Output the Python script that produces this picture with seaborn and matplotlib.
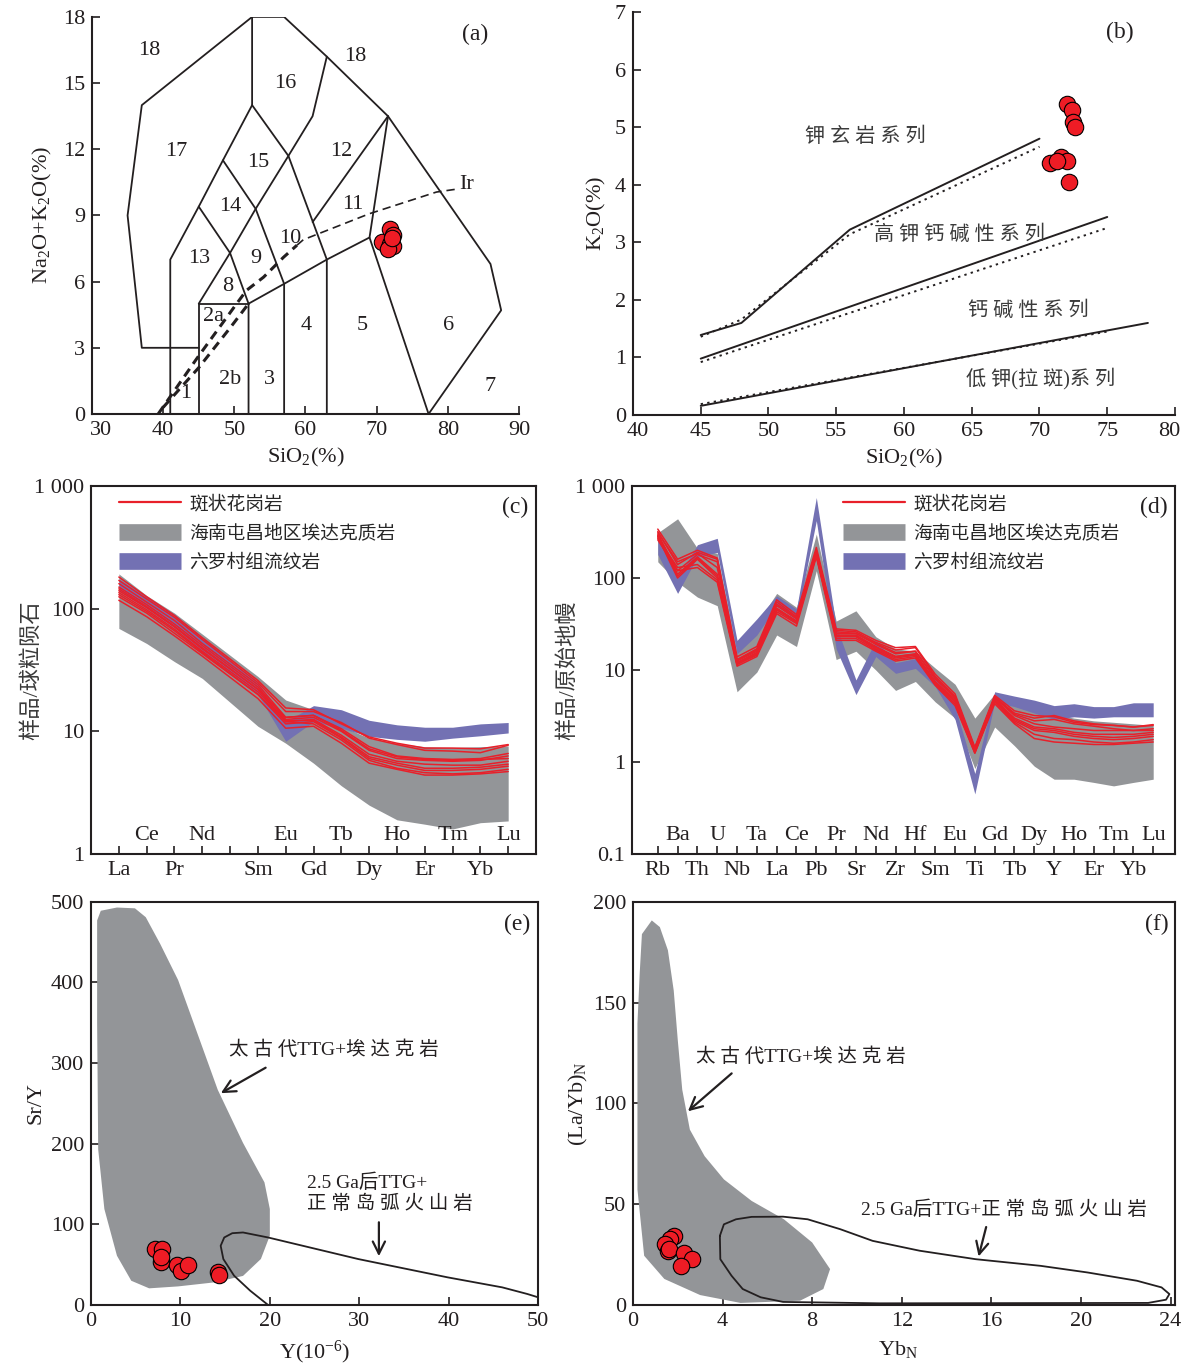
import numpy as np
import pandas as pd
import seaborn as sns
import matplotlib.pyplot as plt
import matplotlib.transforms as mtransforms
from matplotlib.lines import Line2D
from matplotlib.ticker import NullLocator

sns.set_theme(style='ticks')
plt.rcParams['font.family'] = ['Liberation Serif', 'Noto Sans CJK SC']
plt.rcParams['mathtext.fontset'] = 'custom'
plt.rcParams['mathtext.rm'] = 'Liberation Serif'
plt.rcParams['mathtext.default'] = 'regular'

RED = '#e8202a'
GRAY = '#939598'
PURPLE = '#7371b3'
INK = '#231f20'

# ---------------- (a) TAS data ----------------
tas_lines = [
    [(41, 0), (41, 7), (45, 9.4), (48.4, 11.5), (52.5, 14), (52.5, 18)],
    [(45, 3), (37, 3), (35, 9), (37, 14), (52.5, 18), (57, 18), (63, 16.2),
     (71.6, 13.5), (86, 6.8), (87.5, 4.7), (77.3, 0)],
    [(45, 0), (45, 5), (52, 5)],
    [(52, 0), (52, 5), (57, 5.9), (63, 7), (69, 8), (71.6, 13.5)],
    [(45, 5), (49.4, 7.3), (53, 9.3), (57.6, 11.7), (61, 13.5), (63, 16.2)],
    [(45, 9.4), (49.4, 7.3), (52, 5)],
    [(48.4, 11.5), (53, 9.3), (57, 5.9), (57, 0)],
    [(52.5, 14), (57.6, 11.7), (63, 7), (63, 0)],
    [(61, 8.7), (71.6, 13.5)],
    [(69, 8), (77.3, 0)],
]
ir_thick_upper = [(39.3, 0), (44.7, 2.5), (50.1, 4.9), (51.7, 5.6), (54.1, 6.2), (56.9, 7.1), (58.8, 7.65)]
ir_thick_lower = [(40.0, 0.3), (45, 2.1), (49.4, 3.9), (52, 5.0)]
ir_thin = [(58.8, 7.65), (59.7, 7.9), (69.0, 9.08), (78.4, 10.06), (81.4, 10.2)]
tas_names = ['18', '18', '16', '17', '15', '12', '14', '11', '10', '9', '13', '8', '2a',
             '4', '5', '6', '2b', '3', '1', '7']
tas_name_x = [38, 67, 57.2, 41.9, 53.4, 65, 49.4, 66.7, 57.8, 53, 45, 49.1, 47.1,
              60.1, 68.0, 80.1, 49.4, 55, 43.2, 85.9]
tas_name_y = [16.5, 16.2, 15.0, 11.9, 11.4, 11.9, 9.4, 9.5, 7.95, 7.05, 7.05, 5.8, 4.4,
              4.0, 4.0, 4.0, 1.55, 1.55, 0.95, 1.25]
a_sio2 = [70.7, 71.9, 72.3, 71.9, 72.3, 71.6, 72.1]
a_alk = [7.8, 8.4, 8.1, 7.7, 7.6, 7.5, 8.0]

# ---------------- (b) K2O-SiO2 data ----------------
b_lines_solid = [([45, 48, 56, 70], [1.39, 1.6, 3.22, 4.8]),
                 ([45, 75], [0.98, 3.44]),
                 ([45, 78], [0.16, 1.6])]
b_lines_dot = [([45, 48, 56, 70], [1.36, 1.66, 3.14, 4.66]),
               ([45, 75], [0.92, 3.25]),
               ([45, 75], [0.19, 1.45])]
b_series = ['钾 玄 岩 系 列', '高 钾 钙 碱 性 系 列', '钙 碱 性 系 列', '低 钾(拉 斑)系 列']
b_series_x = [52.7, 57.8, 64.7, 64.6]
b_series_y = [4.83, 3.12, 1.81, 0.64]
b_sio2 = [72.0, 72.4, 72.5, 72.6, 70.8, 71.6, 72.0, 71.3, 72.2]
b_k2o = [5.41, 5.29, 5.09, 5.01, 4.38, 4.48, 4.41, 4.42, 4.05]

# ---------------- (c) REE data ----------------
ree = ['La', 'Ce', 'Pr', 'Nd', 'Sm', 'Eu', 'Gd', 'Tb', 'Dy', 'Ho', 'Er', 'Tm', 'Yb', 'Lu']
ree_pos = [0, 1, 2, 3, 5, 6, 7, 8, 9, 10, 11, 12, 13, 14]
ree_samples = [
    [181, 125, 88, 58, 26, 15.5, 15, 11.5, 9.0, 8.0, 7.3, 7.3, 7.2, 7.8],
    [170, 120, 85, 56, 25, 14.5, 14.5, 11.8, 8.8, 7.8, 7.0, 6.9, 6.7, 7.7],
    [160, 113, 80, 52, 24, 13, 13.5, 10.5, 7.5, 6.3, 6.0, 5.9, 6.0, 6.6],
    [150, 108, 75, 50, 23, 12.5, 13, 10, 7.0, 6.0, 5.8, 5.7, 5.8, 6.3],
    [140, 102, 71, 47, 22, 12, 12.5, 9.3, 6.5, 5.7, 5.4, 5.3, 5.3, 5.7],
    [130, 95, 66, 44, 20, 11.5, 12, 8.8, 6.0, 5.3, 4.8, 4.8, 4.9, 5.2],
    [125, 92, 63, 43, 20, 12, 11.5, 8.5, 5.8, 5.0, 4.6, 4.5, 4.6, 4.9],
    [117, 86, 60, 41, 18.5, 10.6, 11, 8.0, 5.5, 4.9, 4.4, 4.4, 4.5, 4.7],
    [145, 104, 72, 48, 22, 13, 13.5, 10.2, 7.2, 6.2, 5.9, 5.8, 5.9, 6.0],
    [135, 98, 68, 45, 21, 12.2, 12.3, 9.0, 6.2, 5.5, 5.0, 5.0, 5.1, 5.4],
]
ree_adakite_hi = [192, 128, 92, 62, 28, 18, 15, 11, 8.8, 8, 7.5, 7.4, 7.5, 7.6]
ree_adakite_lo = [69, 52, 37, 27, 11, 8, 5.5, 3.6, 2.5, 1.9, 1.75, 1.6, 1.8, 1.86]
ree_rhyo_hi = [175, 125, 90, 58, 25, 12, 16.2, 15, 12.3, 11.3, 10.8, 10.8, 11.5, 11.8]
ree_rhyo_lo = [140, 100, 70, 45, 20, 8.3, 12, 10.6, 9.1, 8.6, 8.3, 8.8, 9.2, 9.7]

# ---------------- (d) spider data ----------------
spider = ['Rb', 'Ba', 'Th', 'U', 'Nb', 'Ta', 'La', 'Ce', 'Pb', 'Pr', 'Sr', 'Nd', 'Zr',
          'Hf', 'Sm', 'Eu', 'Ti', 'Gd', 'Tb', 'Dy', 'Y', 'Ho', 'Er', 'Tm', 'Yb', 'Lu']
spider_samples = [
    [340, 160, 200, 165, 13.9, 18, 58, 40, 215, 28, 27, 21, 17.5, 18, 9.0, 5.5, 1.45, 5.3, 3.6, 3.2, 3.1, 2.7, 2.55, 2.5, 2.4, 2.55],
    [320, 140, 190, 160, 13, 17, 55, 38, 200, 27, 26, 20, 16.5, 17.5, 8.5, 5.2, 1.4, 5.1, 3.4, 3.0, 3.2, 2.8, 2.6, 2.5, 2.4, 2.5],
    [300, 120, 180, 150, 12.5, 16, 50, 36, 190, 25, 25, 19, 15, 16, 8.0, 5.0, 1.35, 5.0, 3.2, 2.6, 2.4, 2.3, 2.2, 2.2, 2.2, 2.3],
    [290, 110, 170, 110, 12, 15.5, 47, 34, 185, 24, 24, 18, 14, 15, 7.5, 4.8, 1.3, 4.8, 3.0, 2.4, 2.3, 2.1, 2.0, 2.0, 2.0, 2.1],
    [280, 100, 160, 100, 11.5, 15, 45, 33, 180, 23, 23, 17, 13.5, 14.5, 7.2, 4.5, 1.3, 4.6, 2.8, 2.2, 2.1, 1.9, 1.8, 1.75, 1.8, 1.9],
    [270, 130, 140, 95, 11.5, 14.5, 43, 32, 175, 22, 22, 16.5, 13, 14, 7.0, 4.3, 1.25, 4.5, 2.7, 2.0, 1.8, 1.75, 1.65, 1.6, 1.65, 1.75],
    [260, 120, 130, 90, 11, 14, 41, 30, 170, 21, 21, 16, 12.5, 13.5, 6.8, 4.1, 1.25, 4.3, 2.6, 1.8, 1.65, 1.6, 1.55, 1.55, 1.6, 1.65],
    [310, 150, 185, 130, 12.8, 16.5, 52, 37, 195, 26, 25, 19.5, 15.5, 16, 8.2, 5.0, 1.4, 5.0, 3.3, 2.8, 2.9, 2.6, 2.45, 2.3, 2.2, 2.2],
    [285, 105, 165, 105, 12, 15, 46, 34, 180, 23.5, 23.5, 17.5, 14, 14.8, 7.4, 4.6, 1.3, 4.7, 2.9, 2.3, 2.2, 2.0, 1.9, 1.85, 1.9, 2.0],
]
spider_adakite_hi = [310, 440, 210, 185, 16, 32, 68, 48, 300, 34, 44, 23, 17, 16, 10.5, 7.0, 3.0, 5.5, 4.3, 3.7, 3.3, 3.0, 2.8, 2.7, 2.6, 2.5]
spider_adakite_lo = [150, 90, 62, 50, 5.8, 9.5, 24, 18, 120, 13, 16, 10, 6.0, 7.5, 4.5, 3.0, 0.85, 2.4, 1.5, 0.9, 0.65, 0.65, 0.6, 0.55, 0.6, 0.65]
spider_rhyo_hi = [280, 100, 230, 270, 21, 36, 64, 46, 750, 30, 7.8, 21, 12, 13.3, 8.5, 4.0, 0.75, 5.8, 5.2, 4.7, 4.1, 4.3, 4.0, 4.0, 4.4, 4.4]
spider_rhyo_lo = [180, 68, 170, 190, 15, 24, 50, 35, 420, 17, 5.4, 14, 9.2, 10.4, 6.6, 2.9, 0.45, 4.5, 4.0, 3.4, 2.9, 3.1, 3.0, 3.1, 3.1, 3.1]

legend_labels = ['斑状花岗岩', '海南屯昌地区埃达克质岩', '六罗村组流纹岩']

# ---------------- (e) Sr/Y - Y data ----------------
e_field_x = [0.68, 1.09, 2.9, 4.91, 6.12, 7.73, 9.74, 11.76, 14.17, 17.0, 19.4, 20.0, 20.0,
             19.0, 17.0, 13.8, 9.74, 6.5, 4.5, 2.9, 1.49, 0.8, 0.68]
e_field_y = [477, 489, 493, 492, 481, 448, 403, 341, 267, 201, 152, 119, 86,
             57, 36, 28, 23, 20.6, 30, 61, 119, 193, 350]
e_arc_x = [19.8, 17.8, 16.0, 14.8, 14.5, 14.9, 15.8, 17.0, 19.8, 29.9, 39.9, 46, 48.8, 50]
e_arc_y = [0, 17.7, 36.3, 56.9, 73.4, 83.7, 89, 89.9, 83.7, 56.9, 34.2, 21.8, 13.6, 9.5]
e_y = [7.2, 7.93, 7.8, 7.85, 9.66, 10.06, 10.87, 14.17, 14.3]
e_sry = [69.2, 70, 52.8, 59, 49.5, 42.5, 49.5, 41.2, 37.1]

# ---------------- (f) (La/Yb)N - YbN data ----------------
f_field_x = [0.4, 0.84, 1.2, 1.56, 1.82, 2.0, 2.2, 2.54, 3.2, 4.06, 5.3, 6.74, 8.0, 8.8,
             8.5, 7.46, 4.8, 3.0, 1.4, 0.5, 0.2, 0.2, 0.3]
f_field_y = [184, 190.8, 187.5, 176, 156, 131.5, 106.8, 87, 73.8, 62.3, 51.6, 42.5, 31, 17.8,
             7.9, 2.1, 1.0, 4.9, 12.9, 24.4, 57.3, 139.7, 164.4]
f_arc_x = [3.88, 4.06, 4.6, 5.3, 6.7, 7.8, 9.25, 10.7, 12.8, 15.3, 18.2, 20.3, 22.5, 23.6,
           23.95, 23.8, 23.0, 11.0, 6.7, 5.7, 4.9, 4.4, 3.9, 3.88]
f_arc_y = [34.3, 40, 42.5, 43.7, 43.8, 42.5, 37.6, 31.8, 26.9, 22.7, 19.4, 16.1, 12, 8.7,
           5.4, 2.6, 1.0, 0.8, 1.5, 3.8, 7.9, 14.5, 22.7, 34.3]
f_ybn = [1.82, 1.65, 1.41, 1.56, 1.61, 2.27, 2.63, 2.15]
f_layb = [34.3, 32.6, 30.1, 26.9, 28, 26, 22.7, 19.4]

field_names = ['太 古 代TTG+埃 达 克 岩', '2.5 Ga后TTG+\n正 常 岛 弧 火 山 岩']


def style(ax, box=True):
    ax.spines['top'].set_visible(box)
    ax.spines['right'].set_visible(box)
    for s in ax.spines.values():
        s.set_linewidth(1.5)
        s.set_color(INK)
    ax.tick_params(direction='in', length=6, width=1.2, colors=INK, labelsize=16, pad=5)
    ax.set_facecolor('white')


def nudge_edge_labels(ax, fig, first_dx=0.0, last_dx=0.0):
    # the corner tick labels sit a little inward in the original
    labels = ax.get_xticklabels()
    if first_dx:
        labels[0].set_transform(labels[0].get_transform() +
                                mtransforms.ScaledTranslation(first_dx / 100, 0, fig.dpi_scale_trans))
    if last_dx:
        labels[-1].set_transform(labels[-1].get_transform() +
                                 mtransforms.ScaledTranslation(last_dx / 100, 0, fig.dpi_scale_trans))


def points(ax, x, y):
    sns.scatterplot(x=x, y=y, ax=ax, s=140, color='#ee1c25', edgecolor='black',
                    linewidth=0.8, zorder=5, legend=False)


def long_form(samples, pos):
    rows = []
    for i, vals in enumerate(samples):
        for p, v in zip(pos, vals):
            rows.append({'pos': p, 'val': v, 'sample': i})
    return pd.DataFrame(rows)


def legend(ax, x0):
    handles = [Line2D([], [], color=RED, lw=1.6),
               Line2D([], [], color=GRAY, lw=12, solid_capstyle='butt'),
               Line2D([], [], color=PURPLE, lw=12, solid_capstyle='butt')]
    ax.legend(handles, legend_labels, loc='upper left', bbox_to_anchor=(x0, 0.975),
              frameon=False, fontsize=13.5, handlelength=3.3, handletextpad=0.45,
              labelspacing=0.62, borderpad=0, borderaxespad=0)


fig = plt.figure(figsize=(11.84, 13.64), dpi=100)

# ---------------- (a) ----------------
ax = fig.add_axes([0.0777, 0.6965, 0.3606, 0.2911])
style(ax, box=False)
for seg in tas_lines:
    xs, ys = zip(*seg)
    ax.plot(xs, ys, color=INK, lw=1.3)
for seg in (ir_thick_upper, ir_thick_lower):
    xs, ys = zip(*seg)
    ax.plot(xs, ys, color=INK, lw=2.2, ls=(0, (3, 2)))
xs, ys = zip(*ir_thin)
ax.plot(xs, ys, color=INK, lw=1.2, ls=(0, (5, 3)))
ax.text(82.6, 10.4, 'Ir', fontsize=16, ha='center', va='center', color=INK)
for n, tx, ty in zip(tas_names, tas_name_x, tas_name_y):
    ax.text(tx, ty, n, fontsize=16, ha='center', va='center', color=INK)
points(ax, a_sio2, a_alk)
ax.set_xlim(30, 90)
ax.set_ylim(0, 18)
ax.set_xticks(range(30, 91, 10))
ax.set_yticks(range(0, 19, 3))
nudge_edge_labels(ax, fig, first_dx=9)
ax.text(83.9, 17.2, '(a)', fontsize=17, ha='center', va='center', color=INK)
ax.set_xlabel('SiO$_2$(%)', fontsize=16, color=INK)
ax.set_ylabel('Na$_2$O+K$_2$O(%)', fontsize=16, color=INK)
ax.xaxis.set_label_coords(0.5, -0.08)
ax.yaxis.set_label_coords(-0.088, 0.5)

# ---------------- (b) ----------------
ax = fig.add_axes([0.5346, 0.6957, 0.4578, 0.2955])
style(ax, box=False)
for xs, ys in b_lines_solid:
    ax.plot(xs, ys, color=INK, lw=1.4)
for xs, ys in b_lines_dot:
    ax.plot(xs, ys, color=INK, lw=1.4, ls=(0, (1.2, 2.2)))
for t, tx, ty in zip(b_series, b_series_x, b_series_y):
    ax.text(tx, ty, t, fontsize=14.5, ha='left', va='center', color='#3a3a3a')
points(ax, b_sio2, b_k2o)
ax.set_xlim(40, 80)
ax.set_ylim(0, 7)
ax.set_xticks(range(40, 81, 5))
ax.set_yticks(range(0, 8))
nudge_edge_labels(ax, fig, first_dx=5, last_dx=-6)
ax.text(75.9, 6.64, '(b)', fontsize=17, ha='center', va='center', color=INK)
ax.set_xlabel('SiO$_2$(%)', fontsize=16, color=INK)
ax.set_ylabel('K$_2$O(%)', fontsize=16, color=INK)
ax.xaxis.set_label_coords(0.5, -0.078)
ax.yaxis.set_label_coords(-0.046, 0.5)

# ---------------- (c) ----------------
ax = fig.add_axes([0.0769, 0.3739, 0.3758, 0.2698])
style(ax)
ax.set_yscale('log')
ax.fill_between(ree_pos, ree_adakite_lo, ree_adakite_hi, color=GRAY, lw=0)
ax.fill_between(ree_pos, ree_rhyo_lo, ree_rhyo_hi, color=PURPLE, lw=0)
sns.lineplot(data=long_form(ree_samples, ree_pos), x='pos', y='val', units='sample',
             estimator=None, color=RED, lw=1.1, ax=ax, legend=False)
ax.set_xlim(-1, 15)
ax.set_ylim(1, 1000)
ax.yaxis.set_minor_locator(NullLocator())
ax.set_yticks([1, 10, 100, 1000])
ax.set_yticklabels(['1', '10', '100', '1 000'])
ax.set_xticks(range(15))
under = {p: n for i, (p, n) in enumerate(zip(ree_pos, ree)) if i % 2 == 0}
ax.set_xticklabels([under.get(p, '') for p in range(15)])
for i, (p, n) in enumerate(zip(ree_pos, ree)):
    if i % 2 == 1:
        ax.text(p, 0.025, n, transform=ax.get_xaxis_transform(), fontsize=16,
                ha='center', va='bottom', color=INK)
ax.set_xlabel('')
ax.set_ylabel('样品/球粒陨石', fontsize=16, color='#3a3a3a')
ax.yaxis.set_label_coords(-0.11, 0.5)
ax.text(0.982, 0.943, '(c)', transform=ax.transAxes, fontsize=17, ha='right', va='center', color=INK)
legend(ax, 0.063)

# ---------------- (d) ----------------
ax = fig.add_axes([0.5338, 0.3739, 0.4586, 0.2698])
style(ax)
ax.set_yscale('log')
sp_pos = list(range(len(spider)))
ax.fill_between(sp_pos, spider_adakite_lo, spider_adakite_hi, color=GRAY, lw=0)
ax.fill_between(sp_pos, spider_rhyo_lo, spider_rhyo_hi, color=PURPLE, lw=0)
sns.lineplot(data=long_form(spider_samples, sp_pos), x='pos', y='val', units='sample',
             estimator=None, color=RED, lw=1.1, ax=ax, legend=False)
ax.set_xlim(-1.3, 26.1)
ax.set_ylim(0.1, 1000)
ax.yaxis.set_minor_locator(NullLocator())
ax.set_yticks([0.1, 1, 10, 100, 1000])
ax.set_yticklabels(['0.1', '1', '10', '100', '1 000'])
ax.set_xticks(sp_pos)
ax.set_xticklabels([n if i % 2 == 0 else '' for i, n in enumerate(spider)])
for i, n in enumerate(spider):
    if i % 2 == 1:
        ax.text(i, 0.025, n, transform=ax.get_xaxis_transform(), fontsize=16,
                ha='center', va='bottom', color=INK)
ax.set_xlabel('')
ax.set_ylabel('样品/原始地幔', fontsize=16, color='#3a3a3a')
ax.yaxis.set_label_coords(-0.099, 0.5)
ax.text(0.987, 0.943, '(d)', transform=ax.transAxes, fontsize=17, ha='right', va='center', color=INK)
legend(ax, 0.389)

# ---------------- (e) ----------------
ax = fig.add_axes([0.0769, 0.0433, 0.3775, 0.2955])
style(ax)
ax.fill(e_field_x, e_field_y, color=GRAY, lw=0)
ax.plot(e_arc_x, e_arc_y, color=INK, lw=1.3)
points(ax, e_y, e_sry)
ax.text(15.4, 316.6, field_names[0], fontsize=14, ha='left', va='center', color=INK)
ax.annotate('', xy=(14.25, 261), xytext=(19.8, 296),
            arrowprops=dict(arrowstyle='->', lw=1.6, color=INK, mutation_scale=22))
ax.text(24.2, 138, field_names[1], fontsize=14, ha='left', va='center', color=INK,
        linespacing=1.2)
ax.annotate('', xy=(32.2, 57), xytext=(32.2, 106),
            arrowprops=dict(arrowstyle='->', lw=1.6, color=INK, mutation_scale=22))
ax.set_xlim(0, 50)
ax.set_ylim(0, 500)
ax.set_xticks(range(0, 51, 10))
ax.set_yticks(range(0, 501, 100))
ax.text(0.982, 0.943, '(e)', transform=ax.transAxes, fontsize=17, ha='right', va='center', color=INK)
ax.set_xlabel('Y(10$^{-6}$)', fontsize=16, color=INK)
ax.set_ylabel('Sr/Y', fontsize=16, color=INK)
ax.xaxis.set_label_coords(0.5, -0.085)
ax.yaxis.set_label_coords(-0.103, 0.5)

# ---------------- (f) ----------------
ax = fig.add_axes([0.5346, 0.0433, 0.4578, 0.2955])
style(ax)
ax.fill(f_field_x, f_field_y, color=GRAY, lw=0)
ax.plot(f_arc_x, f_arc_y, color=INK, lw=1.3)
points(ax, f_ybn, f_layb)
ax.text(2.8, 123, field_names[0], fontsize=14, ha='left', va='center', color=INK)
ax.annotate('', xy=(2.36, 95.2), xytext=(4.5, 115.8),
            arrowprops=dict(arrowstyle='->', lw=1.6, color=INK, mutation_scale=22))
ax.text(10.2, 47.4, field_names[1].replace('\n', ''), fontsize=14, ha='left', va='center',
        color=INK)
ax.annotate('', xy=(15.4, 22.7), xytext=(15.8, 40),
            arrowprops=dict(arrowstyle='->', lw=1.6, color=INK, mutation_scale=22))
ax.set_xlim(0, 24.2)
ax.set_ylim(0, 200)
ax.set_xticks(range(0, 25, 4))
ax.set_yticks(range(0, 201, 50))
ax.text(0.988, 0.943, '(f)', transform=ax.transAxes, fontsize=17, ha='right', va='center', color=INK)
ax.set_xlabel('Yb$_N$', fontsize=16, color=INK)
ax.set_ylabel('(La/Yb)$_N$', fontsize=16, color=INK)
ax.xaxis.set_label_coords(0.49, -0.085)
ax.yaxis.set_label_coords(-0.079, 0.5)

fig.savefig('out.png', dpi=100, facecolor='white')
